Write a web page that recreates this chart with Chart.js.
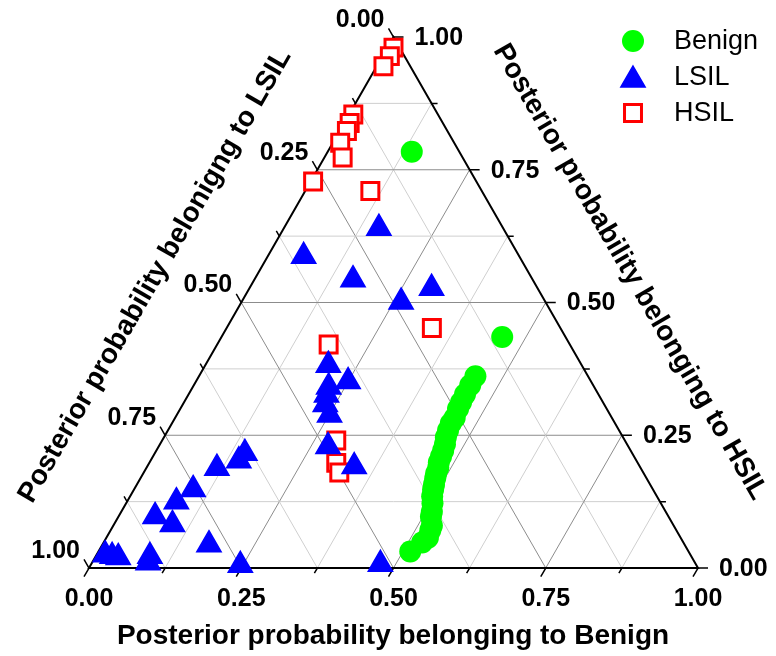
<!DOCTYPE html>
<html>
<head>
<meta charset="utf-8">
<script src="https://cdn.jsdelivr.net/npm/chart.js@4.4.1/dist/chart.umd.min.js"></script>
<style>
  html, body { margin: 0; padding: 0; background: #fff; }
</style>
</head>
<body>
<canvas id="grafica" width="776" height="656"></canvas>
<script>
// Valores ternarios: B = Benign, H = HSIL (LSIL = 1 - B - H)
const benignB = [0.138, 0.461, 0.454, 0.454, 0.454, 0.455, 0.456, 0.459, 0.458, 0.460, 0.463, 0.468, 0.471, 0.473, 0.475, 0.479, 0.481, 0.484, 0.488, 0.491, 0.496, 0.503, 0.510, 0.513, 0.523, 0.525, 0.528, 0.523, 0.512];
const benignH = [0.784, 0.435, 0.361, 0.344, 0.327, 0.312, 0.300, 0.283, 0.272, 0.259, 0.246, 0.233, 0.221, 0.210, 0.199, 0.189, 0.178, 0.169, 0.157, 0.148, 0.135, 0.122, 0.106, 0.097, 0.080, 0.071, 0.057, 0.048, 0.031];

const lsilB = [0.156, 0.059, 0.162, 0.299, 0.262, 0.202, 0.250, 0.223, 0.227, 0.234, 0.251, 0.278, 0.340, 0.148, 0.145, 0.116, 0.097, 0.081, 0.060, 0.096, 0.175, 0.089, 0.092, 0.014, 0.027, 0.038, 0.246, 0.475];
const lsilH = [0.640, 0.587, 0.543, 0.527, 0.501, 0.382, 0.351, 0.341, 0.326, 0.308, 0.288, 0.229, 0.191, 0.216, 0.202, 0.188, 0.148, 0.125, 0.097, 0.082, 0.044, 0.022, 0.010, 0.025, 0.022, 0.020, 0.005, 0.007];

const hsilB = [0.010, 0.012, 0.011, 0.007, 0.009, 0.012, 0.012, 0.030, 0.107, 0.004, 0.337, 0.183, 0.286, 0.307, 0.321];
const hsilH = [0.980, 0.964, 0.945, 0.854, 0.838, 0.823, 0.801, 0.773, 0.710, 0.728, 0.452, 0.421, 0.240, 0.198, 0.180];

const tickValues = [0, 0.25, 0.5, 0.75, 1];
const tickLabels = ['0.00', '0.25', '0.50', '0.75', '1.00'];
const minorStep = 0.125;

const tituloBenign = 'Posterior probability belonging to Benign';
const tituloLSIL = 'Posterior probability belonigng to LSIL';
const tituloHSIL = 'Posterior probability belonging to HSIL';

// pasar (B, H) a coordenadas del plano
function toXY(bs, hs) {
  return bs.map((b, i) => ({ x: b + hs[i] / 2, y: hs[i] }));
}

const FONT = '"Liberation Sans", Arial, sans-serif';

const ternaryPlugin = {
  id: 'ternary',
  beforeDatasetsDraw(chart) {
    const ctx = chart.ctx;
    const xs = chart.scales.x, ys = chart.scales.y;
    const P = (b, h) => [xs.getPixelForValue(b + h / 2), ys.getPixelForValue(h)];

    ctx.save();
    // rejilla
    for (let k = 1; k < 8; k++) {
      const v = k * minorStep;
      const major = k % 2 === 0;
      ctx.strokeStyle = major ? '#8c8c8c' : '#cfcfcf';
      ctx.lineWidth = 1;
      const lines = [
        [P(0, v), P(1 - v, v)],      // H constante
        [P(v, 0), P(v, 1 - v)],      // B constante
        [P(1 - v, 0), P(0, 1 - v)]   // L constante
      ];
      lines.forEach(([a, b]) => {
        ctx.beginPath();
        ctx.moveTo(a[0], a[1]);
        ctx.lineTo(b[0], b[1]);
        ctx.stroke();
      });
    }

    // bordes del triángulo
    const A = P(0, 0), B = P(1, 0), C = P(0, 1);
    ctx.strokeStyle = '#000';
    ctx.lineWidth = 2;
    ctx.beginPath();
    ctx.moveTo(A[0], A[1]);
    ctx.lineTo(B[0], B[1]);
    ctx.lineTo(C[0], C[1]);
    ctx.closePath();
    ctx.stroke();

    // marcas
    ctx.lineWidth = 1.5;
    const c60 = 0.5, s60 = Math.sqrt(3) / 2;
    for (let k = 0; k <= 8; k++) {
      const v = k * minorStep;
      const len = k % 2 === 0 ? 10 : 6;
      const pb = P(v, 0);
      const ph = P(1 - v, v);
      const pl = P(0, 1 - v);
      ctx.beginPath();
      ctx.moveTo(pb[0], pb[1]); ctx.lineTo(pb[0] - c60 * len, pb[1] + s60 * len);
      ctx.moveTo(ph[0], ph[1]); ctx.lineTo(ph[0] + len, ph[1]);
      ctx.moveTo(pl[0], pl[1]); ctx.lineTo(pl[0] - c60 * len, pl[1] - s60 * len);
      ctx.stroke();
    }

    // etiquetas
    ctx.fillStyle = '#000';
    ctx.font = 'bold 25px ' + FONT;
    tickValues.forEach((v, i) => {
      const pb = P(v, 0);
      ctx.textAlign = 'center';
      ctx.textBaseline = 'middle';
      ctx.fillText(tickLabels[i], pb[0], pb[1] + 31);

      const ph = P(1 - v, v);
      ctx.textAlign = 'left';
      ctx.fillText(tickLabels[i], ph[0] + 21, ph[1] + 1);

      const pl = P(0, 1 - v);
      ctx.textAlign = 'right';
      ctx.fillText(tickLabels[i], pl[0] - 9, pl[1] - 17);
    });

    // títulos
    ctx.font = 'bold 28px ' + FONT;
    ctx.textAlign = 'center';
    ctx.textBaseline = 'middle';
    ctx.fillText(tituloBenign, 393, 636);

    ctx.save();
    ctx.translate(155, 276);
    ctx.rotate(-Math.PI / 3);
    ctx.fillText(tituloLSIL, 0, 0);
    ctx.restore();

    ctx.save();
    ctx.translate(630, 272);
    ctx.rotate(Math.PI / 3);
    ctx.fillText(tituloHSIL, 0, 0);
    ctx.restore();

    ctx.restore();
  },
  afterDraw(chart) {
    // leyenda
    const ctx = chart.ctx;
    const rows = [41, 77, 113];
    ctx.save();
    chart.data.datasets.forEach((ds, i) => {
      ctx.fillStyle = ds.backgroundColor;
      ctx.strokeStyle = ds.borderColor;
      ctx.lineWidth = ds.borderWidth;
      Chart.helpers.drawPoint(ctx, {
        pointStyle: ds.pointStyle,
        radius: ds.pointRadius,
        borderWidth: ds.borderWidth
      }, 633, rows[i] + (ds.pointStyle === 'triangle' ? 3 : 0));
      ctx.fillStyle = '#000';
      ctx.font = '27px ' + FONT;
      ctx.textAlign = 'left';
      ctx.textBaseline = 'middle';
      ctx.fillText(ds.label, 674, rows[i] + 1);
    });
    ctx.restore();
  }
};

const ctx = document.getElementById('grafica').getContext('2d');
new Chart(ctx, {
  type: 'scatter',
  data: {
    datasets: [{
      label: 'Benign',
      data: toXY(benignB, benignH),
      pointStyle: 'circle',
      pointRadius: 11,
      backgroundColor: '#00ff00',
      borderColor: '#00ff00',
      borderWidth: 0,
      clip: false
    }, {
      label: 'LSIL',
      data: toXY(lsilB, lsilH),
      pointStyle: 'triangle',
      pointRadius: 14,
      backgroundColor: '#0000ff',
      borderColor: '#0000ff',
      borderWidth: 1.5,
      clip: false
    }, {
      label: 'HSIL',
      data: toXY(hsilB, hsilH),
      pointStyle: 'rect',
      pointRadius: 12,
      backgroundColor: '#ffffff',
      borderColor: '#ff0000',
      borderWidth: 3,
      clip: false
    }]
  },
  options: {
    responsive: false,
    devicePixelRatio: 1,
    animation: false,
    layout: { padding: { left: 89, right: 78, top: 37, bottom: 88 } },
    scales: {
      x: { type: 'linear', min: 0, max: 1, display: false },
      y: { type: 'linear', min: 0, max: 1, display: false }
    },
    plugins: {
      legend: { display: false },
      tooltip: { enabled: false }
    }
  },
  plugins: [ternaryPlugin]
});
</script>
</body>
</html>
